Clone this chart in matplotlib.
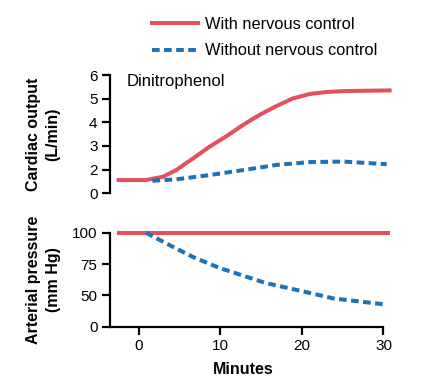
import matplotlib.pyplot as plt
from matplotlib.lines import Line2D

plt.rcParams['font.family'] = ['Liberation Sans', 'DejaVu Sans']

red = '#e5505f'
blue = '#1f72b8'

# cardiac output (plotted on broken scale: bottom tick "0" sits at 1)
co_with_t = [-2.7, 0.9, 3.0, 4.6, 6.7, 8.7, 10.8, 12.8, 14.8, 16.9, 18.9, 21.0, 23.0, 25.1, 31.0]
co_with = [1.56, 1.56, 1.70, 1.98, 2.48, 2.97, 3.42, 3.89, 4.31, 4.69, 5.01, 5.20, 5.28, 5.32, 5.35]
co_without_t = [1.7, 4.6, 8.7, 12.8, 16.9, 21.0, 25.1, 30.4]
co_without = [1.53, 1.59, 1.77, 1.98, 2.20, 2.32, 2.34, 2.23]

# arterial pressure (bottom tick "0" sits at 25)
ap_with_t = [-2.7, 30.8]
ap_with = [100, 100]
ap_without_t = [0.9, 3.4, 6.7, 9.9, 15.6, 20.0, 23.9, 30.4]
ap_without = [100, 91.4, 80.5, 71.9, 59.8, 53.4, 47.5, 42.6]

fig = plt.figure(figsize=(4.28, 3.88), dpi=100)
ax1 = fig.add_axes([0.257, 0.5018, 0.658, 0.3049])
ax2 = fig.add_axes([0.257, 0.158, 0.658, 0.2423])

lw = 2.9
dash = (0, (1.9, 1.1))
ax1.plot(co_with_t, co_with, color=red, lw=lw, solid_capstyle='butt', solid_joinstyle='round')
ax1.plot(co_without_t, co_without, color=blue, lw=lw, ls=dash)
ax2.plot(ap_with_t, ap_with, color=red, lw=lw, solid_capstyle='butt', clip_on=False)
ax2.plot(ap_without_t, ap_without, color=blue, lw=lw, ls=dash, clip_on=False)

for ax in (ax1, ax2):
    ax.set_xlim(-3.5, 31)
    for s in ('top', 'right'):
        ax.spines[s].set_visible(False)
    ax.spines['left'].set_linewidth(1.6)
    ax.spines['bottom'].set_linewidth(1.6)
    ax.tick_params(width=1.6, length=5.5, labelsize=11, pad=3.5)

ax1.set_ylim(1, 6)
ax1.set_yticks([1, 2, 3, 4, 5, 6])
ax1.set_yticklabels(['0', '2', '3', '4', '5', '6'])
ax1.spines['bottom'].set_visible(False)
ax1.set_xticks([])
ax1.text(-1.5, 5.73, 'Dinitrophenol', fontsize=12, va='center')
ax1.set_ylabel('Cardiac output\n(L/min)', fontsize=11.5, fontweight='bold', linespacing=1.4)
ax1.yaxis.set_label_coords(-0.175, 0.5)

ax2.set_ylim(25, 100)
ax2.set_yticks([25, 50, 75, 100])
ax2.set_yticklabels(['0', '50', '75', '100'])
ax2.set_xticks([0, 10, 20, 30])
ax2.spines['bottom'].set_bounds(-3.5, 30)
ax2.set_xlabel('Minutes', fontsize=11.5, fontweight='bold')
ax2.xaxis.set_label_coords(0.472, -0.38)
ax2.set_ylabel('Arterial pressure\n(mm Hg)', fontsize=11.5, fontweight='bold', linespacing=1.4)
ax2.yaxis.set_label_coords(-0.175, 0.5)

handles = [Line2D([], [], color=red, lw=lw),
           Line2D([], [], color=blue, lw=lw, ls=dash)]
fig.legend(handles, ['With nervous control', 'Without nervous control'],
           loc='upper left', bbox_to_anchor=(0.325, 0.99), frameon=False,
           fontsize=11.8, handlelength=2.8, handletextpad=0.45, labelspacing=0.7,
           borderpad=0.3)

fig.savefig('out.png', dpi=100)
